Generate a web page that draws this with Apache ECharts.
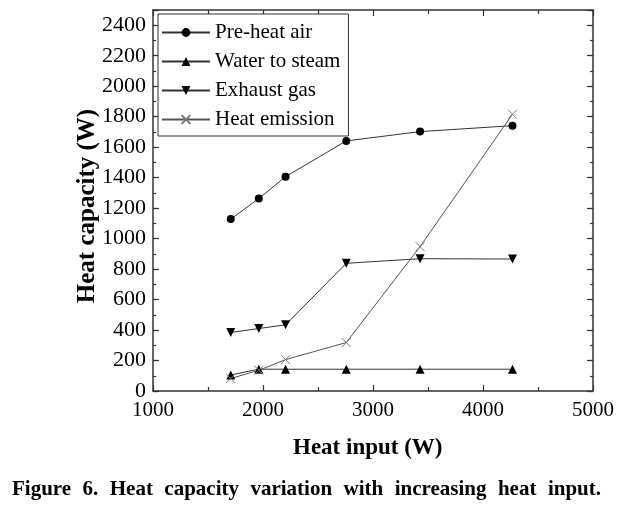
<!DOCTYPE html>
<html>
<head>
<meta charset="utf-8">
<script src="https://cdn.jsdelivr.net/npm/echarts@6/dist/echarts.min.js"></script>
<style>
html,body{margin:0;padding:0;background:#fff;}
#chart{width:633px;height:505px;}
</style>
</head>
<body>
<div id="chart"></div>
<script>
// ---- data ----
var heatInput = [1707, 1962, 2205, 2757, 3428, 4268];
var preHeatAir = [1128, 1263, 1406, 1641, 1702, 1741];
var waterToSteam = [105, 143, 143, 143, 143, 143];
var exhaustGas = [384, 410, 434, 838, 868, 866];
var heatEmission = [82, 136, 206, 318, 947, 1816];
var seriesNames = ['Pre-heat air', 'Water to steam', 'Exhaust gas', 'Heat emission'];
var xTitle = 'Heat input (W)';
var yTitle = 'Heat capacity (W)';
var captionText = 'Figure 6. Heat capacity variation with increasing heat input.';

function pairs(xs, ys) { return xs.map(function (x, i) { return [x, ys[i]]; }); }

var FONT = "'Liberation Serif','Times New Roman',serif";
var AX = '#333';

var chart = echarts.init(document.getElementById('chart'), null, {renderer: 'canvas'});

function baseX(pos, labels) {
  return {
    type: 'value', position: pos, min: 1000, max: 5000, interval: 1000,
    axisLine: {show: true, onZero: false, lineStyle: {color: AX, width: 1.5}},
    axisTick: {show: true, inside: true, length: 6, lineStyle: {color: AX, width: 1.2}},
    minorTick: {show: true, splitNumber: 2, length: 4, lineStyle: {color: AX, width: 1.2}},
    axisLabel: {show: labels, margin: 9, color: '#000', fontFamily: FONT, fontSize: 21,
      formatter: function (v) { return String(v); }},
    splitLine: {show: false}
  };
}
function baseY(pos, labels, interval, len, line) {
  return {
    type: 'value', position: pos, min: 0, max: 2500, interval: interval,
    axisLine: {show: line, onZero: false, lineStyle: {color: AX, width: 1.5}},
    axisTick: {show: true, inside: true, length: len, lineStyle: {color: AX, width: 1.2}},
    axisLabel: {show: labels, margin: 7, color: '#000', fontFamily: FONT, fontSize: 22,
      formatter: function (v) { return v % 200 === 0 && v <= 2400 ? String(v) : ''; }},
    splitLine: {show: false}
  };
}

var crossPath = 'path://M0,0L10,10M10,0L0,10';

// justified caption layout (measured text widths)
var capFont = 'bold 21px ' + FONT;
var ctx = document.createElement('canvas').getContext('2d');
ctx.font = capFont;
var words = captionText.split(' ');
var widths = words.map(function (w) { return ctx.measureText(w).width; });
var capLeft = 12, capRight = 601;
var totalW = widths.reduce(function (a, b) { return a + b; }, 0);
var gap = (capRight - capLeft - totalW) / (words.length - 1);
var capEls = [];
var cx = capLeft;
words.forEach(function (w, i) {
  capEls.push({type: 'text', x: cx, y: 490,
    style: {text: w, font: capFont, fill: '#000', verticalAlign: 'middle'}});
  cx += widths[i] + gap;
});

var option = {
  animation: false,
  backgroundColor: '#fff',
  grid: {left: 153, right: 40, top: 10, bottom: 114, containLabel: false},
  xAxis: [baseX('bottom', true), baseX('top', false)],
  yAxis: [
    baseY('left', true, 200, 6, true),
    baseY('right', false, 200, 6, true),
    baseY('left', false, 100, 3, false),
    baseY('right', false, 100, 3, false)
  ],
  legend: {
    orient: 'vertical', left: 158, top: 14,
    padding: [8, 8, 6, 3], itemGap: 8, itemWidth: 48, itemHeight: 11,
    borderColor: '#333', borderWidth: 1, backgroundColor: '#fff',
    textStyle: {fontFamily: FONT, fontSize: 21, color: '#000', lineHeight: 21},
    data: seriesNames
  },
  series: [
    {name: seriesNames[0], type: 'line', data: pairs(heatInput, preHeatAir),
      symbol: 'circle', symbolSize: 8, showAllSymbol: true,
      lineStyle: {color: '#333', width: 1}, itemStyle: {color: '#000'}},
    {name: seriesNames[1], type: 'line', data: pairs(heatInput, waterToSteam),
      symbol: 'triangle', symbolSize: 9,
      lineStyle: {color: '#333', width: 1}, itemStyle: {color: '#000'}},
    {name: seriesNames[2], type: 'line', data: pairs(heatInput, exhaustGas),
      symbol: 'triangle', symbolRotate: 180, symbolSize: 9,
      lineStyle: {color: '#333', width: 1}, itemStyle: {color: '#000'}},
    {name: seriesNames[3], type: 'line', data: pairs(heatInput, heatEmission),
      symbol: crossPath, symbolSize: 9,
      lineStyle: {color: '#555', width: 1},
      itemStyle: {color: 'rgba(0,0,0,0)', borderColor: '#777', borderWidth: 1}}
  ],
  graphic: [
    {type: 'text', left: 293, top: 437, style: {text: xTitle, font: 'bold 23px ' + FONT, fill: '#000'}},
    {type: 'text', x: 88, y: 206, rotation: Math.PI / 2,
      style: {text: yTitle, font: 'bold 25px ' + FONT, fill: '#000', align: 'center', verticalAlign: 'middle'}}
  ].concat(capEls)
};
chart.setOption(option);
</script>
</body>
</html>
